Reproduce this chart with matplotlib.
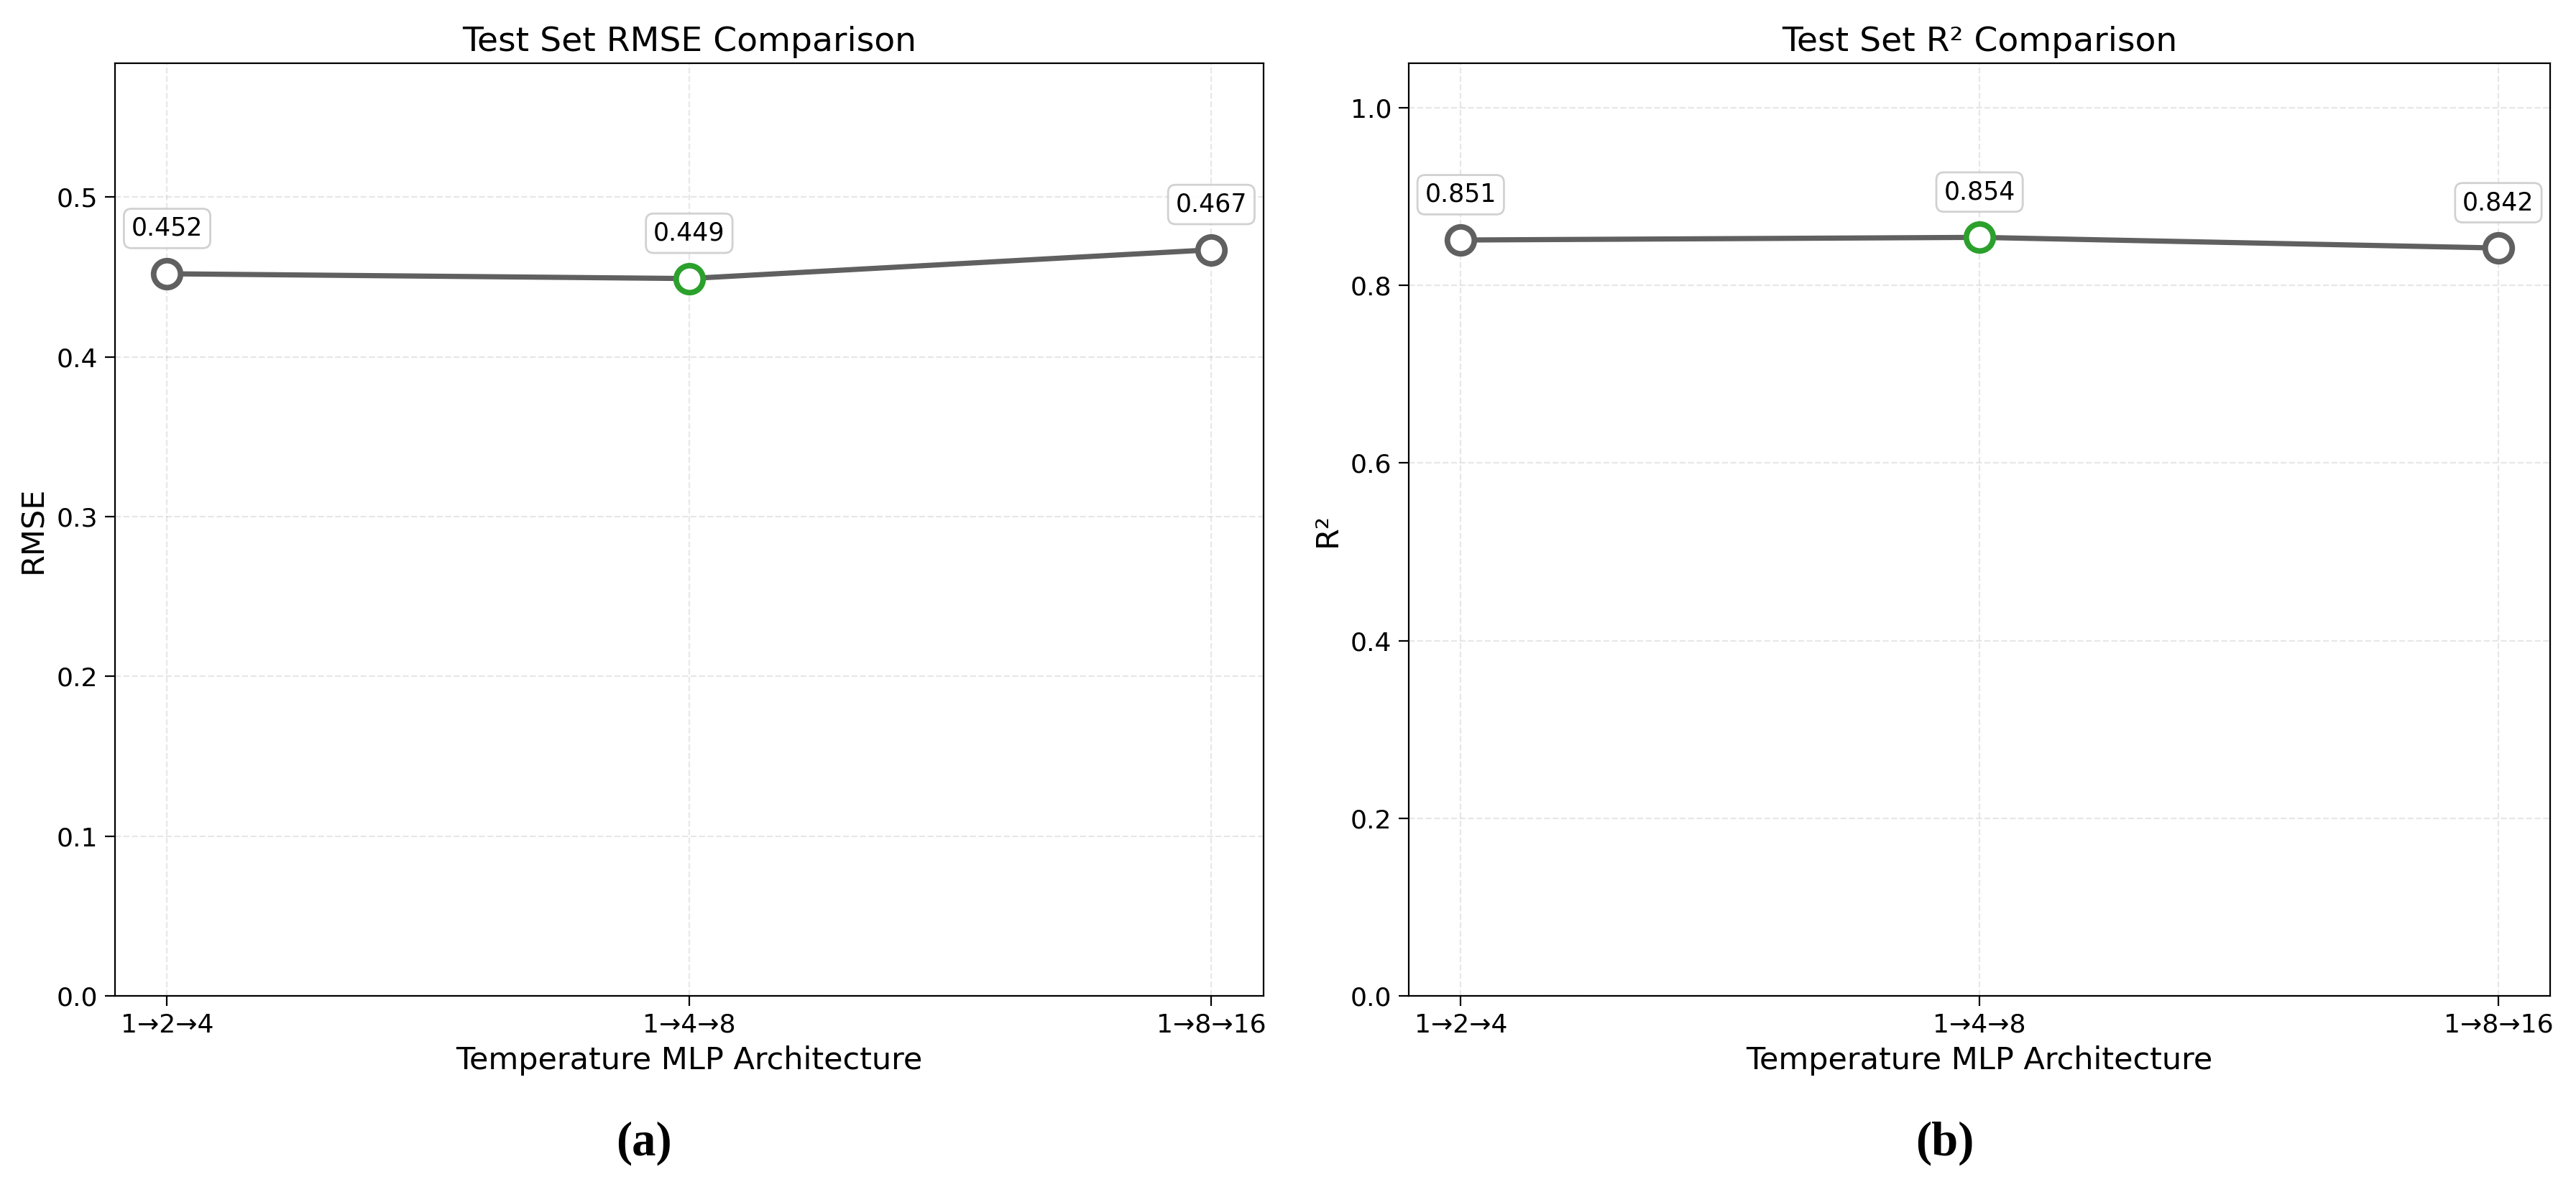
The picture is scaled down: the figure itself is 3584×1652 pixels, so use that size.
import numpy as np
import matplotlib
matplotlib.use("Agg")
import matplotlib.pyplot as plt

# --- Datos ---
arquitecturas = ['1→2→4', '1→4→8', '1→8→16']
rmse = [0.452, 0.449, 0.467]
r2 = [0.851, 0.854, 0.842]
idx_mejor_rmse = 1
idx_mejor_r2 = 1

color_linea = '#606060'
color_mejor = '#2ca02c'

fig = plt.figure(figsize=(17.92, 8.26), dpi=200)
ax1 = fig.add_axes([0.0446, 0.161, 0.4459, 0.7857])
ax2 = fig.add_axes([0.5469, 0.161, 0.4431, 0.7857])


def panel(ax, valores, mejor, titulo, ylabel, ylim, yticks):
    x = np.arange(len(arquitecturas))
    ax.plot(x, valores, color=color_linea, lw=2.6, zorder=2)
    for i, v in enumerate(valores):
        ec = color_mejor if i == mejor else color_linea
        ax.plot(x[i], v, 'o', ms=13.5, mfc='white', mec=ec, mew=2.8, zorder=3)
        ax.annotate(f'{v:.3f}', (x[i], v), xytext=(0, 22.7), textcoords='offset points',
                    ha='center', va='center', fontsize=12.5,
                    bbox=dict(boxstyle='round,pad=0.3', fc='white', ec='#cccccc', alpha=0.9))
    ax.set_xticks(x)
    ax.set_xticklabels(arquitecturas, fontsize=13)
    ax.set_xlim(-0.1, len(arquitecturas) - 0.9)
    ax.set_ylim(*ylim)
    ax.set_yticks(yticks)
    ax.tick_params(axis='y', labelsize=13)
    ax.tick_params(length=5)
    ax.set_title(titulo, fontsize=17)
    ax.set_xlabel('Temperature MLP Architecture', fontsize=15.5)
    ax.set_ylabel(ylabel, fontsize=15.5)
    ax.grid(True, linestyle='--', alpha=0.3)
    ax.set_axisbelow(True)


panel(ax1, rmse, idx_mejor_rmse, 'Test Set RMSE Comparison', 'RMSE',
      (0, max(rmse) * 1.25), np.arange(0, 0.51, 0.1))
panel(ax2, r2, idx_mejor_r2, 'Test Set R² Comparison', 'R²',
      (0, 1.05), np.arange(0, 1.01, 0.2))

fig.text(0.25, 0.037, '(a)', ha='center', va='center', fontsize=24,
         fontweight='bold', family='Liberation Serif')
fig.text(0.755, 0.037, '(b)', ha='center', va='center', fontsize=24,
         fontweight='bold', family='Liberation Serif')

fig.savefig('out.png', dpi=200)
